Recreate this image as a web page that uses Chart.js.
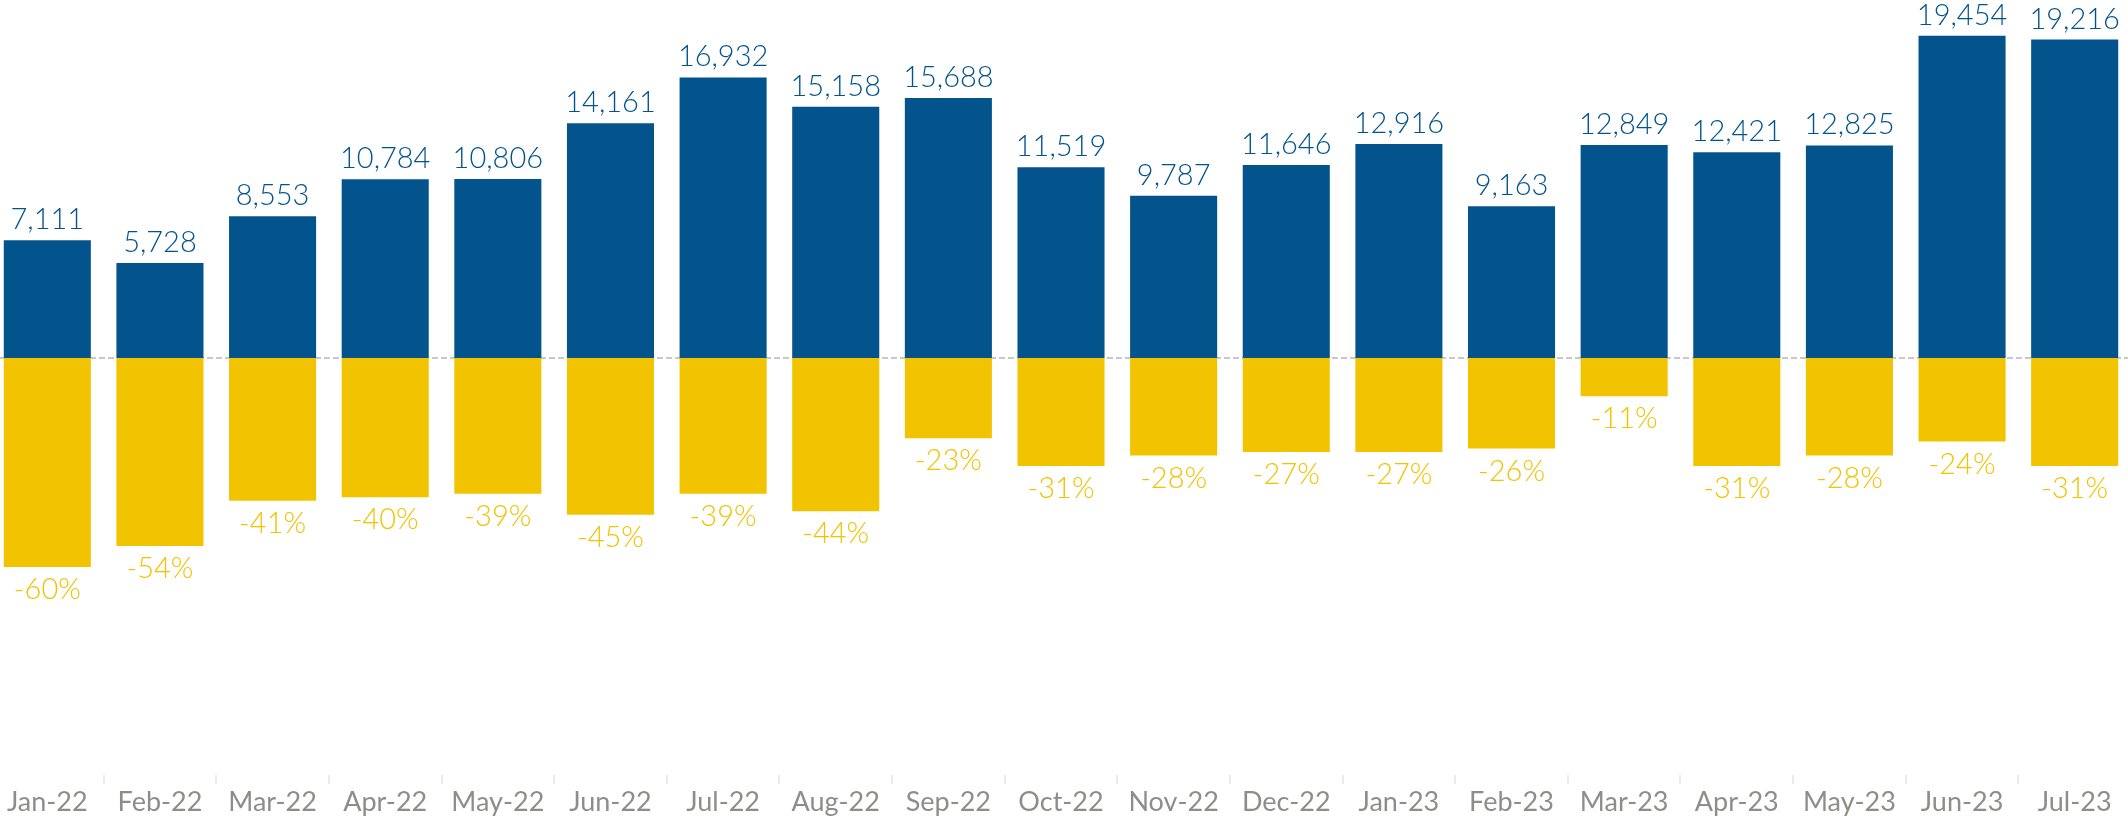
<!DOCTYPE html>
<html>
<head>
<meta charset="utf-8">
<script src="https://cdn.jsdelivr.net/npm/chart.js@4.4.0/dist/chart.umd.min.js"></script>
<style>
  html, body { margin: 0; padding: 0; background: #fff; overflow: hidden; }
  #wrap { position: absolute; left: -9px; top: 0; width: 2140px; height: 816px; }
</style>
</head>
<body>
<div id="wrap"><canvas id="chart"></canvas></div>
<script>
// Data
const months = ['Jan-22','Feb-22','Mar-22','Apr-22','May-22','Jun-22','Jul-22','Aug-22','Sep-22','Oct-22',
  'Nov-22','Dec-22','Jan-23','Feb-23','Mar-23','Apr-23','May-23','Jun-23','Jul-23'];
const counts = [7111, 5728, 8553, 10784, 10806, 14161, 16932, 15158, 15688, 11519,
  9787, 11646, 12916, 9163, 12849, 12421, 12825, 19454, 19216];
const changes = [-60, -54, -41, -40, -39, -45, -39, -44, -23, -31,
  -28, -27, -27, -26, -11, -31, -28, -24, -31];

const BLUE = '#03548c';
const YELLOW = '#f2c300';
const GREY = '#8e8e89';
const FONT = 'Lato, "Noto Sans", sans-serif';

// dashed zero line + value labels
const labelPlugin = {
  id: 'labels',
  beforeDatasetsDraw(chart){
    const ctx = chart.ctx;
    const y0 = chart.scales.y.getPixelForValue(0);
    ctx.save();
    ctx.strokeStyle = '#c9c9c9';
    ctx.lineWidth = 2;
    ctx.setLineDash([6, 3]);
    ctx.beginPath();
    ctx.moveTo(chart.chartArea.left, y0);
    ctx.lineTo(chart.chartArea.right, y0);
    ctx.stroke();
    ctx.restore();
  },
  afterDatasetsDraw(chart){
    const ctx = chart.ctx;
    ctx.save();
    ctx.font = '300 29px ' + FONT;
    ctx.textAlign = 'center';
    ctx.textBaseline = 'alphabetic';
    chart.getDatasetMeta(0).data.forEach((bar, i) => {
      ctx.fillStyle = BLUE;
      ctx.fillText(counts[i].toLocaleString('en-US'), bar.x, bar.y - 11);
    });
    chart.getDatasetMeta(1).data.forEach((bar, i) => {
      ctx.fillStyle = YELLOW;
      ctx.fillText(changes[i] + '%', bar.x, bar.y + 32);
    });
    ctx.restore();
  }
};

new Chart(document.getElementById('chart'), {
  type: 'bar',
  data: {
    labels: months,
    datasets: [
      { data: counts, backgroundColor: BLUE, yAxisID: 'y', grouped: false,
        barPercentage: 0.773, categoryPercentage: 1 },
      { data: changes, backgroundColor: YELLOW, yAxisID: 'y2', grouped: false,
        barPercentage: 0.773, categoryPercentage: 1 }
    ]
  },
  options: {
    responsive: true,
    maintainAspectRatio: false,
    animation: false,
    layout: { padding: 0 },
    plugins: { legend: { display: false }, tooltip: { enabled: false } },
    scales: {
      x: {
        offset: true,
        border: { display: false },
        grid: { offset: true, drawOnChartArea: false, drawTicks: true, tickLength: 9, color: '#ebebeb', lineWidth: 2 },
        ticks: { color: GREY, font: { family: FONT, size: 27 }, padding: 2, maxRotation: 0, autoSkip: false },
        afterFit(scale){ scale.height = 41; }
      },
      y: { display: false, min: -25166, max: 21605 },
      y2: { display: false, min: -119.8, max: 102.9 }
    }
  },
  plugins: [labelPlugin]
});
</script>
</body>
</html>
